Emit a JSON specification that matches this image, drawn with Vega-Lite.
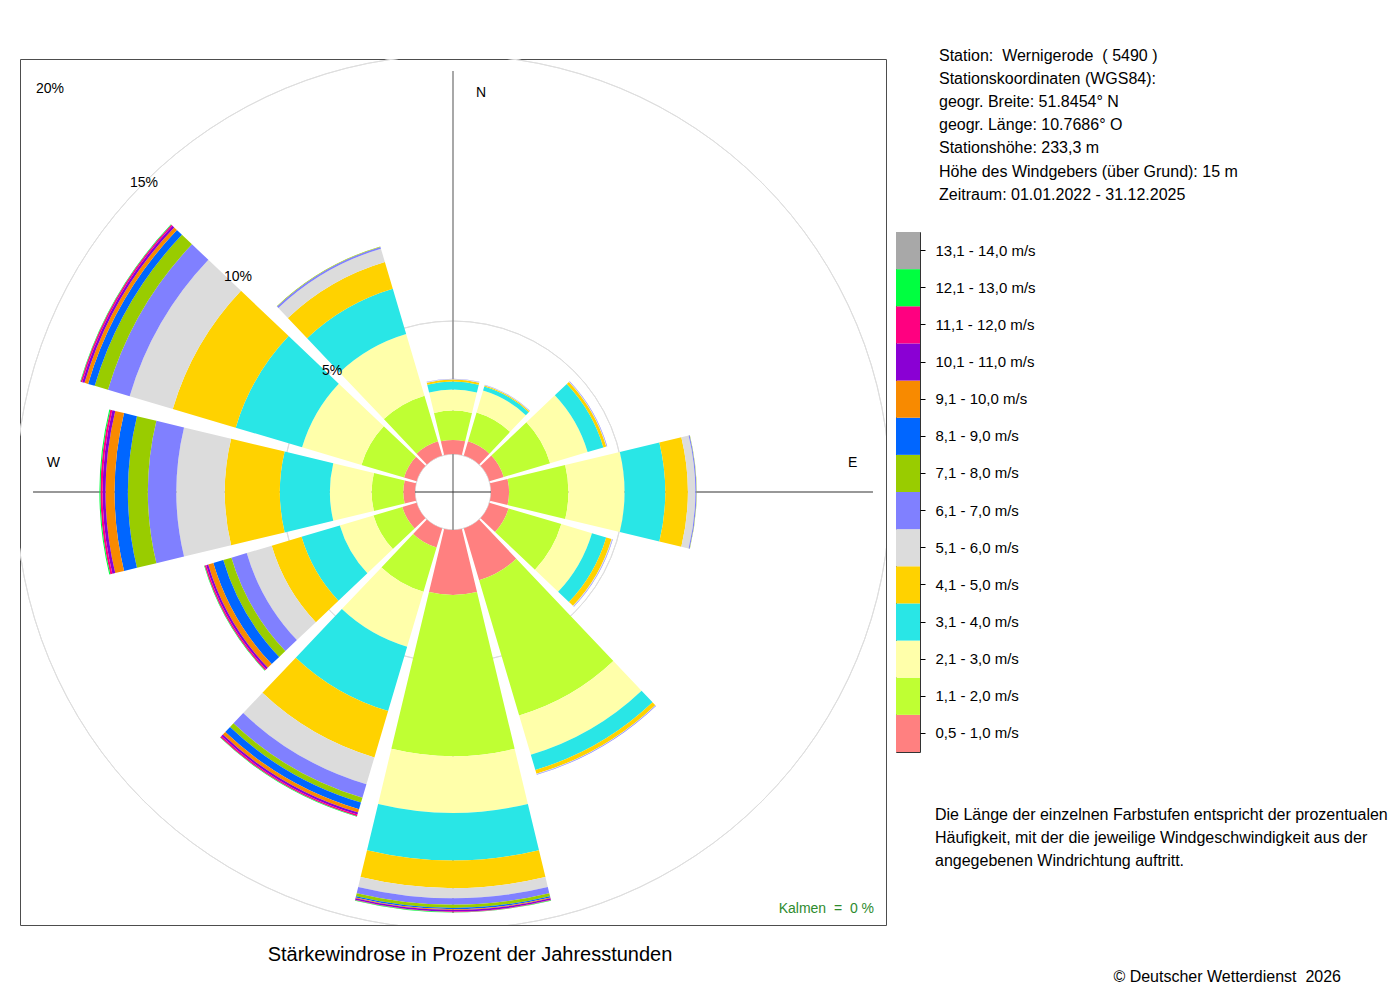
{
  "$schema": "https://vega.github.io/schema/vega-lite/v6.json",
  "background": "white",
  "padding": {"left": 19, "top": 47, "right": 0, "bottom": 0},
  "config": {
    "font": "Liberation Sans",
    "view": {"stroke": null},
    "text": {"color": "#000000"}
  },
  "datasets": {
    "classes": [
      {"vmax": 1, "cls": "0,5 - 1,0 m/s"},
      {"vmax": 2, "cls": "1,1 - 2,0 m/s"},
      {"vmax": 3, "cls": "2,1 - 3,0 m/s"},
      {"vmax": 4, "cls": "3,1 - 4,0 m/s"},
      {"vmax": 5, "cls": "4,1 - 5,0 m/s"},
      {"vmax": 6, "cls": "5,1 - 6,0 m/s"},
      {"vmax": 7, "cls": "6,1 - 7,0 m/s"},
      {"vmax": 8, "cls": "7,1 - 8,0 m/s"},
      {"vmax": 9, "cls": "8,1 - 9,0 m/s"},
      {"vmax": 10, "cls": "9,1 - 10,0 m/s"},
      {"vmax": 11, "cls": "10,1 - 11,0 m/s"},
      {"vmax": 12, "cls": "11,1 - 12,0 m/s"},
      {"vmax": 13, "cls": "12,1 - 13,0 m/s"},
      {"vmax": 14, "cls": "13,1 - 14,0 m/s"}
    ],
    "rose": [
      {"dir": 0, "v": 1, "pct": 0.53}, {"dir": 0, "v": 2, "pct": 1.10}, {"dir": 0, "v": 3, "pct": 0.79}, {"dir": 0, "v": 4, "pct": 0.30}, {"dir": 0, "v": 5, "pct": 0.08}, {"dir": 0, "v": 6, "pct": 0.02}, {"dir": 0, "v": 7, "pct": 0.01},
      {"dir": 30, "v": 1, "pct": 0.56}, {"dir": 30, "v": 2, "pct": 1.13}, {"dir": 30, "v": 3, "pct": 0.86}, {"dir": 30, "v": 4, "pct": 0.16}, {"dir": 30, "v": 5, "pct": 0.04}, {"dir": 30, "v": 6, "pct": 0.02}, {"dir": 30, "v": 7, "pct": 0.01},
      {"dir": 60, "v": 1, "pct": 0.56}, {"dir": 60, "v": 2, "pct": 1.82}, {"dir": 60, "v": 3, "pct": 1.47}, {"dir": 60, "v": 4, "pct": 0.62}, {"dir": 60, "v": 5, "pct": 0.11}, {"dir": 60, "v": 6, "pct": 0.02}, {"dir": 60, "v": 7, "pct": 0.02},
      {"dir": 90, "v": 1, "pct": 0.68}, {"dir": 90, "v": 2, "pct": 2.23}, {"dir": 90, "v": 3, "pct": 2.11}, {"dir": 90, "v": 4, "pct": 1.53}, {"dir": 90, "v": 5, "pct": 0.85}, {"dir": 90, "v": 6, "pct": 0.28}, {"dir": 90, "v": 7, "pct": 0.04}, {"dir": 90, "v": 8, "pct": 0.01},
      {"dir": 120, "v": 1, "pct": 0.75}, {"dir": 120, "v": 2, "pct": 2.07}, {"dir": 120, "v": 3, "pct": 1.20}, {"dir": 120, "v": 4, "pct": 0.56}, {"dir": 120, "v": 5, "pct": 0.21}, {"dir": 120, "v": 6, "pct": 0.03}, {"dir": 120, "v": 7, "pct": 0.02},
      {"dir": 150, "v": 1, "pct": 2.03}, {"dir": 150, "v": 2, "pct": 5.30}, {"dir": 150, "v": 3, "pct": 1.54}, {"dir": 150, "v": 4, "pct": 0.60}, {"dir": 150, "v": 5, "pct": 0.15}, {"dir": 150, "v": 6, "pct": 0.02}, {"dir": 150, "v": 7, "pct": 0.02},
      {"dir": 180, "v": 1, "pct": 2.44}, {"dir": 180, "v": 2, "pct": 6.06}, {"dir": 180, "v": 3, "pct": 2.13}, {"dir": 180, "v": 4, "pct": 1.79}, {"dir": 180, "v": 5, "pct": 1.04}, {"dir": 180, "v": 6, "pct": 0.38}, {"dir": 180, "v": 7, "pct": 0.24}, {"dir": 180, "v": 8, "pct": 0.12}, {"dir": 180, "v": 9, "pct": 0.05}, {"dir": 180, "v": 10, "pct": 0.03}, {"dir": 180, "v": 11, "pct": 0.06}, {"dir": 180, "v": 12, "pct": 0.02}, {"dir": 180, "v": 13, "pct": 0.01},
      {"dir": 210, "v": 1, "pct": 0.75}, {"dir": 210, "v": 2, "pct": 1.73}, {"dir": 210, "v": 3, "pct": 2.16}, {"dir": 210, "v": 4, "pct": 2.52}, {"dir": 210, "v": 5, "pct": 1.82}, {"dir": 210, "v": 6, "pct": 1.05}, {"dir": 210, "v": 7, "pct": 0.53}, {"dir": 210, "v": 8, "pct": 0.19}, {"dir": 210, "v": 9, "pct": 0.26}, {"dir": 210, "v": 10, "pct": 0.13}, {"dir": 210, "v": 11, "pct": 0.08}, {"dir": 210, "v": 12, "pct": 0.06}, {"dir": 210, "v": 13, "pct": 0.02},
      {"dir": 240, "v": 1, "pct": 0.56}, {"dir": 240, "v": 2, "pct": 1.13}, {"dir": 240, "v": 3, "pct": 1.32}, {"dir": 240, "v": 4, "pct": 1.50}, {"dir": 240, "v": 5, "pct": 1.17}, {"dir": 240, "v": 6, "pct": 0.98}, {"dir": 240, "v": 7, "pct": 0.60}, {"dir": 240, "v": 8, "pct": 0.32}, {"dir": 240, "v": 9, "pct": 0.39}, {"dir": 240, "v": 10, "pct": 0.20}, {"dir": 240, "v": 11, "pct": 0.08}, {"dir": 240, "v": 12, "pct": 0.06}, {"dir": 240, "v": 13, "pct": 0.02},
      {"dir": 270, "v": 1, "pct": 0.44}, {"dir": 270, "v": 2, "pct": 1.19}, {"dir": 270, "v": 3, "pct": 1.57}, {"dir": 270, "v": 4, "pct": 1.88}, {"dir": 270, "v": 5, "pct": 2.07}, {"dir": 270, "v": 6, "pct": 1.82}, {"dir": 270, "v": 7, "pct": 1.07}, {"dir": 270, "v": 8, "pct": 0.75}, {"dir": 270, "v": 9, "pct": 0.50}, {"dir": 270, "v": 10, "pct": 0.34}, {"dir": 270, "v": 11, "pct": 0.11}, {"dir": 270, "v": 12, "pct": 0.08}, {"dir": 270, "v": 13, "pct": 0.04},
      {"dir": 300, "v": 1, "pct": 0.49}, {"dir": 300, "v": 2, "pct": 1.67}, {"dir": 300, "v": 3, "pct": 2.33}, {"dir": 300, "v": 4, "pct": 2.60}, {"dir": 300, "v": 5, "pct": 2.47}, {"dir": 300, "v": 6, "pct": 1.69}, {"dir": 300, "v": 7, "pct": 0.85}, {"dir": 300, "v": 8, "pct": 0.52}, {"dir": 300, "v": 9, "pct": 0.26}, {"dir": 300, "v": 10, "pct": 0.14}, {"dir": 300, "v": 11, "pct": 0.09}, {"dir": 300, "v": 12, "pct": 0.06}, {"dir": 300, "v": 13, "pct": 0.02},
      {"dir": 330, "v": 1, "pct": 0.56}, {"dir": 330, "v": 2, "pct": 1.79}, {"dir": 330, "v": 3, "pct": 2.42}, {"dir": 330, "v": 4, "pct": 1.77}, {"dir": 330, "v": 5, "pct": 1.05}, {"dir": 330, "v": 6, "pct": 0.52}, {"dir": 330, "v": 7, "pct": 0.07}, {"dir": 330, "v": 8, "pct": 0.02}
    ],
    "rings": [
      {"pct": 0, "label": ""},
      {"pct": 5, "label": "5%"},
      {"pct": 10, "label": "10%"},
      {"pct": 15, "label": "15%"},
      {"pct": 20, "label": "20%"}
    ],
    "axes": [
      {"axis": "N-S", "deg": 0},
      {"axis": "N-S", "deg": 180},
      {"axis": "W-E", "deg": 90},
      {"axis": "W-E", "deg": 270}
    ],
    "compass": [
      {"label": "N", "deg": 0},
      {"label": "E", "deg": 90},
      {"label": "W", "deg": 270}
    ],
    "calm": [{"label": "Kalmen\u00a0\u00a0=\u00a0\u00a00 %"}],
    "info": [{"lines": [
      "Station:\u00a0\u00a0Wernigerode\u00a0\u00a0( 5490 )",
      "Stationskoordinaten (WGS84):",
      "geogr. Breite: 51.8454° N",
      "geogr. Länge: 10.7686° O",
      "Stationshöhe: 233,3 m",
      "Höhe des Windgebers (über Grund): 15 m",
      "Zeitraum: 01.01.2022 - 31.12.2025"
    ]}],
    "note": [{"lines": [
      "Die Länge der einzelnen Farbstufen entspricht der prozentualen",
      "Häufigkeit, mit der die jeweilige Windgeschwindigkeit aus der",
      "angegebenen Windrichtung auftritt."
    ]}],
    "credit": [{"lines": "© Deutscher Wetterdienst\u00a0\u00a02026"}]
  },
  "bounds": "flush",
  "spacing": 10,
  "hconcat": [
    {
      "width": 866,
      "height": 866,
      "view": {"stroke": "#4d4d4d", "strokeWidth": 1},
      "title": {
        "text": "Stärkewindrose in Prozent der Jahresstunden",
        "orient": "bottom",
        "fontSize": 20,
        "fontWeight": "normal",
        "color": "#000000",
        "offset": 20,
        "dx": 17
      },
      "layer": [
        {
          "data": {"name": "rings"},
          "mark": {"type": "arc", "filled": false, "stroke": "#dedede", "strokeWidth": 1, "clip": true},
          "encoding": {
            "theta": {"datum": 0, "type": "quantitative", "scale": {"type": "linear", "domain": [0, 360], "range": [0, 6.283185307179586]}},
            "theta2": {"datum": 360},
            "radius": {"field": "pct", "type": "quantitative", "scale": {"type": "linear", "domain": [0, 20], "range": [38, 570], "zero": false}}
          }
        },
        {
          "data": {"name": "axes"},
          "transform": [{"filter": "datum.axis == 'N-S'"}],
          "mark": {"type": "arc", "filled": false, "stroke": "#8c8c8c", "strokeWidth": 1.5},
          "encoding": {
            "theta": {"field": "deg", "type": "quantitative"},
            "theta2": {"field": "deg"},
            "radius": {"datum": 14.4, "type": "quantitative"},
            "radius2": {"datum": -1.43}
          }
        },
        {
          "data": {"name": "axes"},
          "transform": [{"filter": "datum.axis == 'W-E'"}],
          "mark": {"type": "arc", "filled": false, "stroke": "#333333", "strokeWidth": 1.2},
          "encoding": {
            "theta": {"field": "deg", "type": "quantitative"},
            "theta2": {"field": "deg"},
            "radius": {"datum": 14.36, "type": "quantitative"},
            "radius2": {"datum": -1.43}
          }
        },
        {
          "data": {"name": "rose"},
          "transform": [
            {"lookup": "v", "from": {"data": {"name": "classes"}, "key": "vmax", "fields": ["cls"]}},
            {"stack": "pct", "groupby": ["dir"], "sort": [{"field": "v", "order": "ascending"}], "as": ["r0", "r1"]}
          ],
          "mark": {"type": "arc", "thetaOffset": -0.2356, "theta2Offset": 0.2356},
          "encoding": {
            "theta": {"field": "dir", "type": "quantitative", "stack": null},
            "theta2": {"field": "dir"},
            "radius": {"field": "r1", "type": "quantitative", "stack": null},
            "radius2": {"field": "r0"},
            "color": {
              "field": "cls",
              "type": "nominal",
              "legend": null,
              "scale": {
                "domain": ["0,5 - 1,0 m/s", "1,1 - 2,0 m/s", "2,1 - 3,0 m/s", "3,1 - 4,0 m/s", "4,1 - 5,0 m/s", "5,1 - 6,0 m/s", "6,1 - 7,0 m/s", "7,1 - 8,0 m/s", "8,1 - 9,0 m/s", "9,1 - 10,0 m/s", "10,1 - 11,0 m/s", "11,1 - 12,0 m/s", "12,1 - 13,0 m/s", "13,1 - 14,0 m/s"],
                "range": ["#FF8080", "#BFFF33", "#FFFFAA", "#29E6E6", "#FFD200", "#DCDCDC", "#8080FF", "#99CC00", "#0066FF", "#F88A00", "#8A00D4", "#FF0080", "#00FF40", "#A8A8A8"]
              }
            }
          }
        },
        {
          "data": {"name": "rings"},
          "transform": [{"filter": "datum.pct > 0"}],
          "mark": {"type": "text", "fontSize": 14},
          "encoding": {
            "theta": {"datum": 315, "type": "quantitative"},
            "radius": {"field": "pct", "type": "quantitative"},
            "text": {"field": "label"}
          }
        },
        {
          "data": {"name": "compass"},
          "transform": [{"filter": "datum.label == 'N'"}],
          "mark": {"type": "text", "fontSize": 14, "dx": 28},
          "encoding": {
            "theta": {"field": "deg", "type": "quantitative"},
            "radius": {"datum": 13.58, "type": "quantitative"},
            "text": {"field": "label"}
          }
        },
        {
          "data": {"name": "compass"},
          "transform": [{"filter": "datum.label != 'N'"}],
          "mark": {"type": "text", "fontSize": 14, "dy": -29},
          "encoding": {
            "theta": {"field": "deg", "type": "quantitative"},
            "radius": {"datum": 13.6, "type": "quantitative"},
            "text": {"field": "label"}
          }
        },
        {
          "data": {"name": "calm"},
          "mark": {"type": "text", "fontSize": 14, "align": "right", "baseline": "alphabetic", "color": "#2e8b2e", "dx": -12, "dy": -12},
          "encoding": {
            "x": {"value": "width"},
            "y": {"value": "height"},
            "text": {"field": "label"}
          }
        }
      ]
    },
    {
      "bounds": "flush",
      "spacing": 0,
      "vconcat": [
        {
          "width": 460,
          "height": 173,
          "data": {"name": "info"},
          "mark": {"type": "text", "align": "left", "baseline": "alphabetic", "fontSize": 16, "lineHeight": 23.2, "dx": 43, "dy": 1.7},
          "encoding": {
            "x": {"value": 0},
            "y": {"value": 0},
            "text": {"field": "lines"}
          }
        },
        {
          "width": 24,
          "height": 520,
          "view": {"stroke": "#333333", "strokeWidth": 1},
          "data": {"name": "classes"},
          "mark": "rect",
          "encoding": {
            "y": {
              "field": "cls",
              "type": "ordinal",
              "sort": {"field": "vmax", "order": "descending"},
              "scale": {"paddingInner": 0, "paddingOuter": 0},
              "axis": {
                "orient": "right",
                "title": null,
                "domain": false,
                "bandPosition": 0.5,
                "tickSize": 5,
                "tickColor": "#000000",
                "tickWidth": 1,
                "labelFontSize": 15,
                "labelPadding": 10,
                "labelColor": "#000000",
                "labelFont": "Liberation Sans"
              }
            },
            "color": {
              "field": "cls",
              "type": "nominal",
              "legend": null,
              "scale": {
                "domain": ["0,5 - 1,0 m/s", "1,1 - 2,0 m/s", "2,1 - 3,0 m/s", "3,1 - 4,0 m/s", "4,1 - 5,0 m/s", "5,1 - 6,0 m/s", "6,1 - 7,0 m/s", "7,1 - 8,0 m/s", "8,1 - 9,0 m/s", "9,1 - 10,0 m/s", "10,1 - 11,0 m/s", "11,1 - 12,0 m/s", "12,1 - 13,0 m/s", "13,1 - 14,0 m/s"],
                "range": ["#FF8080", "#BFFF33", "#FFFFAA", "#29E6E6", "#FFD200", "#DCDCDC", "#8080FF", "#99CC00", "#0066FF", "#F88A00", "#8A00D4", "#FF0080", "#00FF40", "#A8A8A8"]
              }
            }
          }
        },
        {
          "width": 460,
          "height": 130,
          "layer": [
            {
              "data": {"name": "note"},
              "mark": {"type": "text", "align": "left", "baseline": "alphabetic", "fontSize": 16, "lineHeight": 23, "dx": 39, "dy": 67.8},
              "encoding": {
                "x": {"value": 0},
                "y": {"value": 0},
                "text": {"field": "lines"}
              }
            },
            {
              "data": {"name": "credit"},
              "mark": {"type": "text", "align": "right", "baseline": "alphabetic", "fontSize": 16, "dx": -15, "dy": 229.8},
              "encoding": {
                "x": {"value": "width"},
                "y": {"value": 0},
                "text": {"field": "lines"}
              }
            }
          ]
        }
      ]
    }
  ]
}
